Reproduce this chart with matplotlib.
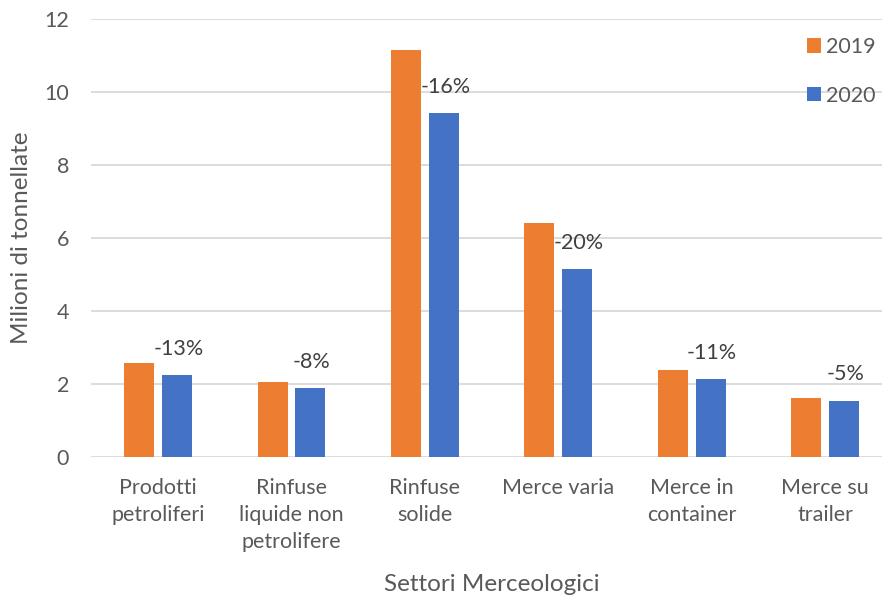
import numpy as np
import matplotlib.pyplot as plt

plt.rcParams['font.family'] = ['Lato', 'DejaVu Sans']

# ── Dati ──────────────────────────────────────────────────────────────────────
settori = ["Prodotti\npetroliferi", "Rinfuse\nliquide non\npetrolifere",
           "Rinfuse\nsolide", "Merce varia", "Merce in\ncontainer",
           "Merce su\ntrailer"]
val_2019 = [2.58, 2.05, 11.16, 6.42, 2.38, 1.61]
val_2020 = [2.23, 1.88, 9.42, 5.14, 2.12, 1.54]
variazioni = ["-13%", "-8%", "-16%", "-20%", "-11%", "-5%"]

GRIGIO = '#595959'
ARANCIO = '#ED7D31'
BLU = '#4472C4'

# ── Figura ────────────────────────────────────────────────────────────────────
fig = plt.figure(figsize=(8.82, 5.97), dpi=100)
ax = fig.add_axes([91.3 / 882, 140.3 / 597, (892 - 91.3) / 882, (456.7 - 19.3) / 597])

x = np.arange(len(settori))
w = 0.225
off = 0.142

ax.bar(x - off, val_2019, w, color=ARANCIO, label='2019', zorder=3)
ax.bar(x + off, val_2020, w, color=BLU, label='2020', zorder=3)

for xi, v, txt in zip(x, val_2020, variazioni):
    ax.annotate(txt, (xi + off + 0.01, v), xytext=(0, 19), textcoords='offset points',
                ha='center', va='center', fontsize=15.5, color='#404040')

ax.set_xlim(-0.5, len(settori) - 0.5)
ax.set_ylim(0, 12)
ax.set_yticks(np.arange(0, 13, 2))
ax.set_xticks(x)
ax.set_xticklabels(settori, linespacing=1.45)
ax.tick_params(axis='both', length=0, labelsize=15.5, colors=GRIGIO)
ax.tick_params(axis='y', pad=16)
ax.tick_params(axis='x', pad=15)

ax.grid(axis='y', color='#D9D9D9', linewidth=1.3, zorder=0)
for s in ax.spines.values():
    s.set_visible(False)

ax.set_ylabel("Milioni di tonnellate", fontsize=17.5, color=GRIGIO, va='center')
ax.set_xlabel("Settori Merceologici", fontsize=17.5, color=GRIGIO, va='center')
ax.yaxis.set_label_coords(-0.0866, 0.5)
ax.xaxis.set_label_coords(0.5, -0.293)

leg = ax.legend(loc='upper left', frameon=False, fontsize=15.5,
                handlelength=0.65, handleheight=0.65, handletextpad=0.25,
                labelspacing=1.33, borderaxespad=0, borderpad=0)
for t in leg.get_texts():
    t.set_color(GRIGIO)
leg.set_bbox_to_anchor((807 / 882, 1 - 37 / 597), transform=fig.transFigure)

fig.savefig("out.png", dpi=100)
